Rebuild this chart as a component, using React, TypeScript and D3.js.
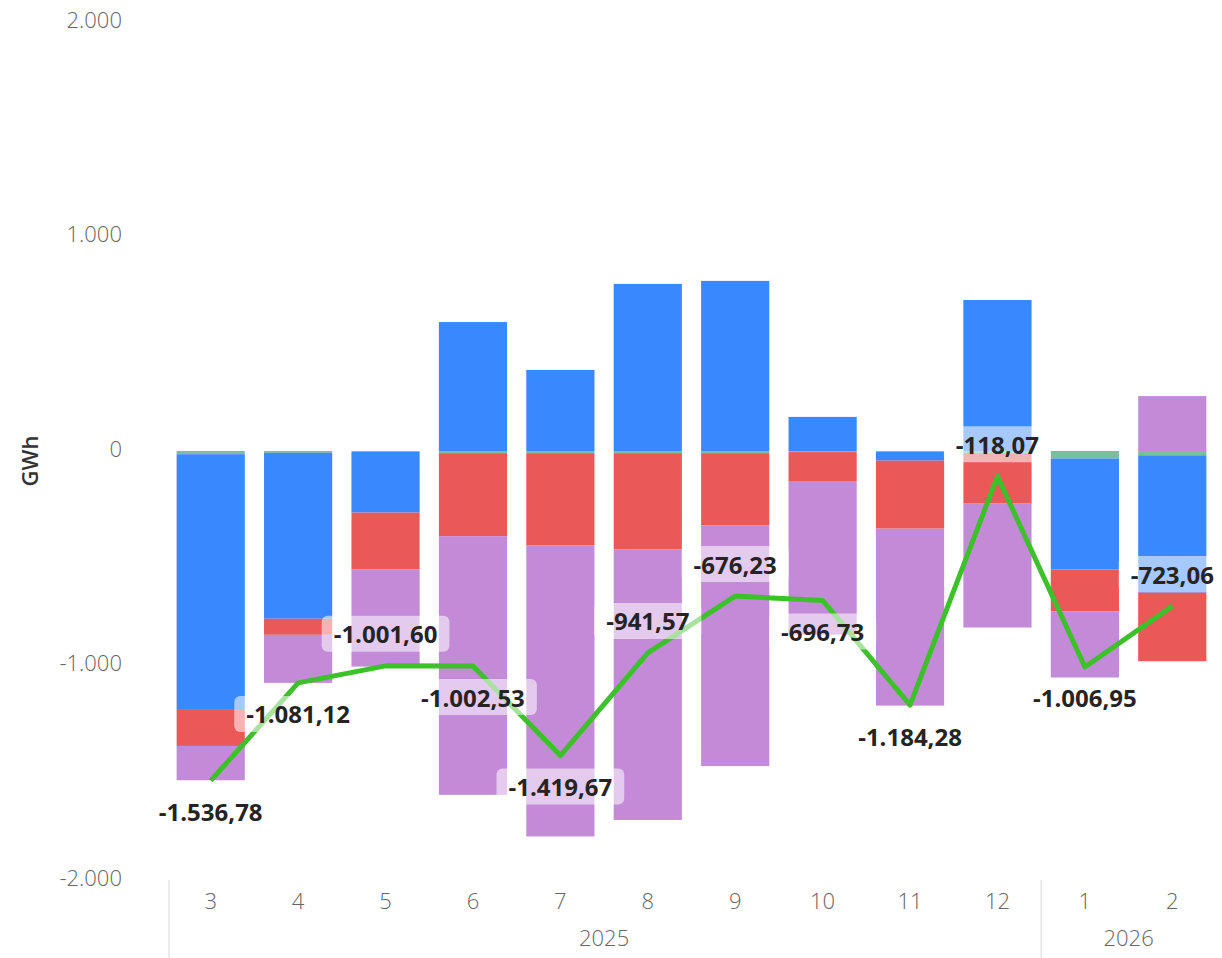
import { useEffect, useRef } from "react";
import * as d3 from "d3";

// ── Data ─────────────────────────────────────────────────────────────────────

const MONTHS = ["3", "4", "5", "6", "7", "8", "9", "10", "11", "12", "1", "2"];
const YEARS  = [2025, 2025, 2025, 2025, 2025, 2025, 2025, 2025, 2025, 2025, 2026, 2026];

const GREEN  = [-15, -8, -3, -10, -10, -10, -10, -5, -3, -10, -35, -20];
const BLUE   = [-1188, -774, -284, 601, 378, 779, 793, 159, -42, 704, -517, -640];
const RED    = [-172, -75, -266, -387, -429, -448, -336, -135, -317, -233, -196, -320];
const PURPLE = [-160, -224, -452, -1206, -1358, -1262, -1123, -716, -825, -580, -308, 256];
const NET    = [-1536.78, -1081.12, -1001.6, -1002.53, -1419.67, -941.57, -676.23, -696.73, -1184.28, -118.07, -1006.95, -723.06];

// which side of the point each data label sits on
const LABEL_SIDE = ["below", "below", "above", "below", "below", "above", "above", "below", "below", "above", "below", "above"];

const Y_TICKS = [-2000, -1000, 0, 1000, 2000];

// ── Tokens ───────────────────────────────────────────────────────────────────

const COLORS: Record<string, string> = {
  green:  "#77BF9D",
  blue:   "#3A88FE",
  red:    "#EA5858",
  purple: "#C38AD7",
};
const LINE  = "#3DC12A";
const FG    = "#252423";
const MUTED = "#666666";
const RULE  = "#E6E6E6";
const FONT  = "'Open Sans', 'Segoe UI', sans-serif";

const W = 1222, H = 958;
const X0 = 167, X1 = 1216;
const Y_TOP = 22, Y_BOT = 880;

const fmt = d3.formatLocale({ decimal: ",", thousands: ".", grouping: [3], currency: ["", ""], minus: "-" });
const fmtTick = fmt.format(",.0f");
const fmtVal  = fmt.format(",.2f");

export default function App() {
  const svgRef = useRef<SVGSVGElement>(null);

  useEffect(() => {
    if (!svgRef.current) return;
    document.body.style.margin = "0";

    const keys = MONTHS.map((m, i) => `${YEARS[i]}-${m}`);
    const rows = keys.map((k, i) => ({
      key: k, green: GREEN[i], blue: BLUE[i], red: RED[i], purple: PURPLE[i],
    }));

    const series = d3.stack<any>()
      .keys(["green", "blue", "red", "purple"])
      .offset(d3.stackOffsetDiverging)(rows);

    const x = d3.scaleBand()
      .domain(keys)
      .range([X0, X1])
      .paddingInner(0.22)
      .paddingOuter(0.11);

    const y = d3.scaleLinear().domain([-2000, 2000]).range([Y_BOT, Y_TOP]);

    const svg = d3.select(svgRef.current);
    svg.selectAll("*").remove();

    // Y axis labels
    svg.append("g")
      .selectAll("text")
      .data(Y_TICKS)
      .join("text")
      .attr("x", 122)
      .attr("y", d => y(d))
      .attr("text-anchor", "end")
      .attr("dominant-baseline", "middle")
      .attr("fill", MUTED)
      .attr("font-size", "22px")
      .attr("font-weight", 300)
      .attr("font-family", FONT)
      .text(d => fmtTick(d));

    svg.append("text")
      .attr("transform", `translate(38,${y(0) + 10}) rotate(-90)`)
      .attr("text-anchor", "middle")
      .attr("fill", "#333")
      .attr("font-size", "22px")
      .attr("font-weight", 600)
      .attr("font-family", FONT)
      .text("GWh");

    // Stacked bars
    svg.append("g")
      .selectAll("g")
      .data(series)
      .join("g")
      .attr("fill", s => COLORS[s.key])
      .selectAll("rect")
      .data(s => s)
      .join("rect")
      .attr("x", d => x(d.data.key)!)
      .attr("width", x.bandwidth())
      .attr("y", d => y(Math.max(d[0], d[1])))
      .attr("height", d => Math.abs(y(d[0]) - y(d[1])));

    // Net line
    const pts = keys.map((k, i) => ({ k, v: NET[i], side: LABEL_SIDE[i] }));
    const line = d3.line<{ k: string; v: number }>()
      .x(d => x(d.k)! + x.bandwidth() / 2)
      .y(d => y(d.v));

    svg.append("path")
      .datum(pts)
      .attr("d", line)
      .attr("fill", "none")
      .attr("stroke", LINE)
      .attr("stroke-width", 5)
      .attr("stroke-linejoin", "round");

    // Data labels with translucent boxes
    const lg = svg.append("g");
    pts.forEach(p => {
      const cx = x(p.k)! + x.bandwidth() / 2;
      const cy = y(p.v) + (p.side === "above" ? -32 : 31);
      const g = lg.append("g");
      const rect = g.append("rect");
      const t = g.append("text")
        .attr("x", cx)
        .attr("y", cy)
        .attr("text-anchor", "middle")
        .attr("dominant-baseline", "central")
        .attr("fill", FG)
        .attr("font-size", "24px")
        .attr("font-weight", 700)
        .attr("font-family", FONT)
        .text(fmtVal(p.v));
      const bb = (t.node() as SVGTextElement).getBBox();
      rect
        .attr("x", bb.x - 12)
        .attr("y", cy - 18)
        .attr("width", bb.width + 24)
        .attr("height", 36)
        .attr("rx", 6)
        .attr("fill", "#fff")
        .attr("fill-opacity", 0.55);
    });

    // X axis (hierarchical)
    const ax = svg.append("g");
    ax.selectAll("text.m")
      .data(keys)
      .join("text")
      .attr("class", "m")
      .attr("x", d => x(d)! + x.bandwidth() / 2)
      .attr("y", 903)
      .attr("text-anchor", "middle")
      .attr("dominant-baseline", "middle")
      .attr("fill", MUTED)
      .attr("font-size", "22px")
      .attr("font-weight", 300)
      .attr("font-family", FONT)
      .text((_, i) => MONTHS[i]);

    const yearGroups = d3.groups(keys.map((k, i) => ({ k, yr: YEARS[i] })), d => d.yr);
    yearGroups.forEach(([yr, items], gi) => {
      const left = x(items[0].k)! - x.step() * x.paddingInner() / 2;
      const right = x(items[items.length - 1].k)! + x.bandwidth() + x.step() * x.paddingInner() / 2;
      ax.append("text")
        .attr("x", (left + right) / 2)
        .attr("y", 940)
        .attr("text-anchor", "middle")
        .attr("dominant-baseline", "middle")
        .attr("fill", MUTED)
        .attr("font-size", "22px")
        .attr("font-weight", 300)
        .attr("font-family", FONT)
        .text(String(yr));
      ax.append("line")
        .attr("x1", gi === 0 ? X0 + 2 : left)
        .attr("x2", gi === 0 ? X0 + 2 : left)
        .attr("y1", Y_BOT)
        .attr("y2", H)
        .attr("stroke", RULE)
        .attr("stroke-width", 1.5);
    });
  }, []);

  return (
    <svg
      ref={svgRef}
      width={W}
      height={H}
      style={{ display: "block", position: "absolute", left: 0, top: 0, background: "#fff" }}
    />
  );
}
